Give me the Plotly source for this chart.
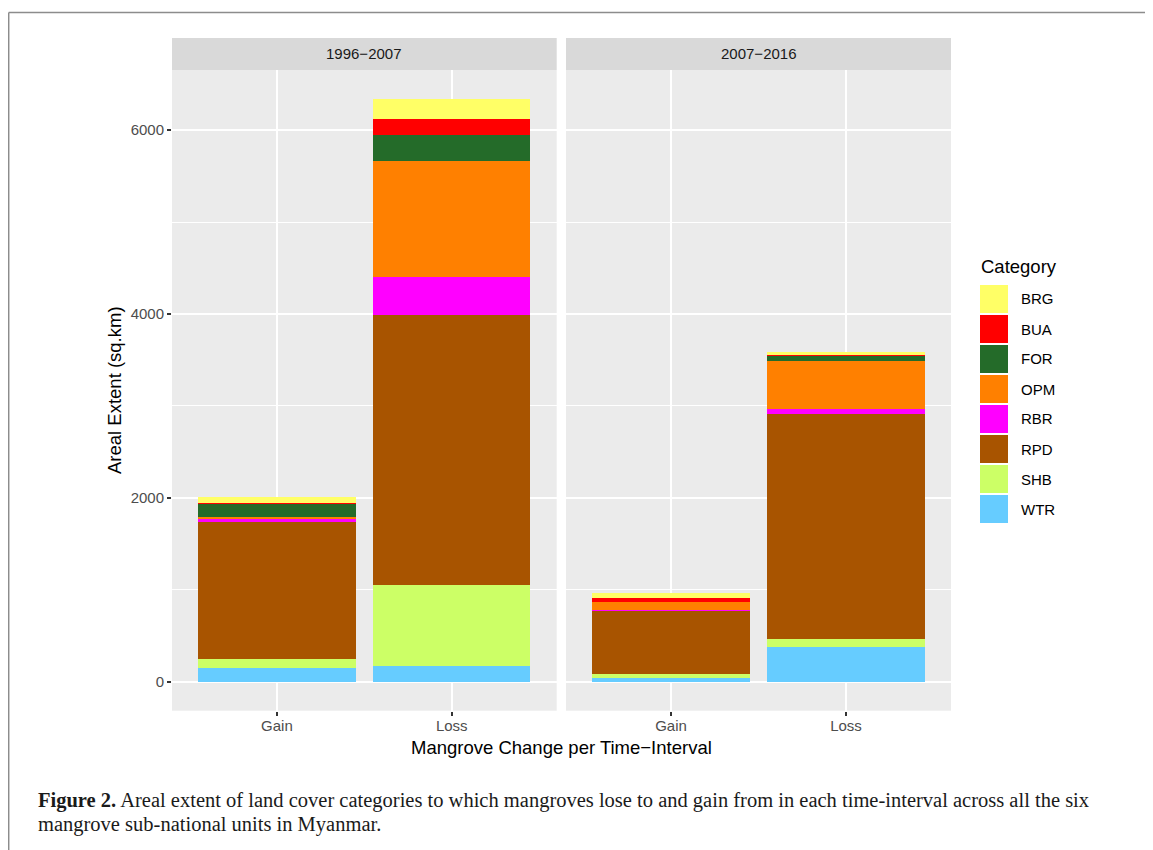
import plotly.graph_objects as go

# page body adds an 8px offset; compensate so the picture lands at reference pixels
OFF = 8
W, H = 1153 - OFF, 850 - OFF

categories = ["BRG", "BUA", "FOR", "OPM", "RBR", "RPD", "SHB", "WTR"]
colors = ["#FFFF66", "#FF0000", "#246B29", "#FF8000", "#FF00FF", "#A85400", "#CCFF66", "#66CCFF"]
changes = ["Gain", "Loss"]
periods = ["1996\u22122007", "2007\u22122016"]

# values per category: [Gain, Loss]
p1_gain = [62, 11, 144, 25, 18, 1496, 98, 152]
p1_loss = [220, 166, 289, 1259, 412, 2939, 878, 174]
p2_gain = [51, 40, 3, 84, 14, 683, 44, 43]
p2_loss = [30, 14, 51, 531, 54, 2441, 86, 380]

def px(x):
    return (x - OFF) / W

def py(y):
    return 1 - (y - OFF) / H

fig = go.Figure()

panel_data = [(p1_gain, p1_loss, "x", "y"), (p2_gain, p2_loss, "x2", "y2")]
# plotly stacks first trace at bottom; ggplot puts first level on top
for gain, loss, xa, ya in panel_data:
    for i in reversed(range(len(categories))):
        fig.add_trace(go.Bar(
            x=changes, y=[gain[i], loss[i]], name=categories[i],
            marker=dict(color=colors[i], line=dict(width=0)),
            width=0.9, xaxis=xa, yaxis=ya, showlegend=False,
            hoverinfo="skip",
        ))

totals = [sum(p1_gain), sum(p1_loss), sum(p2_gain), sum(p2_loss)]
mx = max(totals)
yrange = [-0.05 * mx, 1.05 * mx]

ydom = [py(710.7), py(70)]
axis_common = dict(
    type="category", range=[-0.6, 1.6], showgrid=True, gridcolor="white", gridwidth=2,
    ticks="outside", ticklen=4, tickwidth=2, tickcolor="#333333",
    tickfont=dict(family="Liberation Sans, Arial", size=15, color="#4D4D4D"),
    ticklabelstandoff=-3,
    showline=False, zeroline=False, fixedrange=True,
)
yaxis_common = dict(
    range=yrange, dtick=2000, tick0=0, showgrid=True, gridcolor="white", gridwidth=2,
    minor=dict(dtick=1000, tick0=0, showgrid=True, gridcolor="white", gridwidth=1),
    tickwidth=2, tickcolor="#333333", ticklen=4,
    tickfont=dict(family="Liberation Sans, Arial", size=15, color="#4D4D4D"),
    showline=False, zeroline=False, domain=ydom, fixedrange=True,
)

fig.update_layout(
    width=W, height=H, margin=dict(l=0, r=0, t=0, b=0),
    paper_bgcolor="white", plot_bgcolor="#EBEBEB", barmode="stack", bargap=0.1,
    showlegend=False,
    xaxis=dict(domain=[px(172), px(556.7)], anchor="y", **axis_common),
    xaxis2=dict(domain=[px(566), px(951)], anchor="y2", **axis_common),
    yaxis=dict(anchor="x", ticks="outside", **yaxis_common),
    yaxis2=dict(anchor="x2", matches="y", showticklabels=False, ticks="", **yaxis_common),
)

shapes = []
annotations = []

# strips
for (x0, x1), label in zip([(172, 556.7), (566, 951)], periods):
    shapes.append(dict(type="rect", xref="paper", yref="paper", x0=px(x0), x1=px(x1),
                       y0=py(70), y1=py(38), fillcolor="#D9D9D9", line=dict(width=0), layer="below"))
    annotations.append(dict(text=label, xref="paper", yref="paper", x=px((x0 + x1) / 2), y=py(54),
                            showarrow=False, xanchor="center", yanchor="middle",
                            font=dict(family="Liberation Sans, Arial", size=15, color="#1A1A1A")))

# axis titles
annotations.append(dict(text="Mangrove Change per Time\u2212Interval", xref="paper", yref="paper",
                        x=px((172 + 951) / 2), y=py(747), showarrow=False, xanchor="center", yanchor="middle",
                        font=dict(family="Liberation Sans, Arial", size=18.5, color="black")))
annotations.append(dict(text="Areal Extent (sq.km)", xref="paper", yref="paper",
                        x=px(115), y=py(390), showarrow=False, xanchor="center", yanchor="middle",
                        textangle=-90,
                        font=dict(family="Liberation Sans, Arial", size=18.5, color="black")))

# custom legend
annotations.append(dict(text="Category", xref="paper", yref="paper", x=px(979), y=py(266),
                        showarrow=False, xanchor="left", yanchor="middle",
                        font=dict(family="Liberation Sans, Arial", size=18.5, color="black")))
for i, (cat, col) in enumerate(zip(categories, colors)):
    top = 285 + 30 * i
    shapes.append(dict(type="rect", xref="paper", yref="paper", x0=px(980), x1=px(1008),
                       y0=py(top + 28), y1=py(top), fillcolor=col, line=dict(width=0)))
    annotations.append(dict(text=cat, xref="paper", yref="paper", x=px(1019), y=py(top + 14),
                            showarrow=False, xanchor="left", yanchor="middle",
                            font=dict(family="Liberation Sans, Arial", size=15, color="black")))

# page border (top and left)
shapes.append(dict(type="line", xref="paper", yref="paper", x0=px(8.7), x1=1, y0=py(12.5), y1=py(12.5),
                   line=dict(color="#8C8C8C", width=1.5)))
shapes.append(dict(type="line", xref="paper", yref="paper", x0=px(8.7), x1=px(8.7), y0=py(12.5), y1=0,
                   line=dict(color="#8C8C8C", width=1.5)))

# caption
cap1 = ("<b>Figure 2.</b> Areal extent of land cover categories to which mangroves lose to and gain from "
        "in each time-interval across all the six")
cap2 = "mangrove sub-national units in Myanmar."
annotations.append(dict(text=cap1, xref="paper", yref="paper", x=px(36), y=py(800), showarrow=False,
                        xanchor="left", yanchor="middle",
                        font=dict(family="Liberation Serif, Times New Roman", size=20.5, color="#1A1A1A")))
annotations.append(dict(text=cap2, xref="paper", yref="paper", x=px(36), y=py(824), showarrow=False,
                        xanchor="left", yanchor="middle",
                        font=dict(family="Liberation Serif, Times New Roman", size=20.5, color="#1A1A1A")))

fig.update_layout(shapes=shapes, annotations=annotations)

fig.write_html("out.html", config={"displayModeBar": False})
